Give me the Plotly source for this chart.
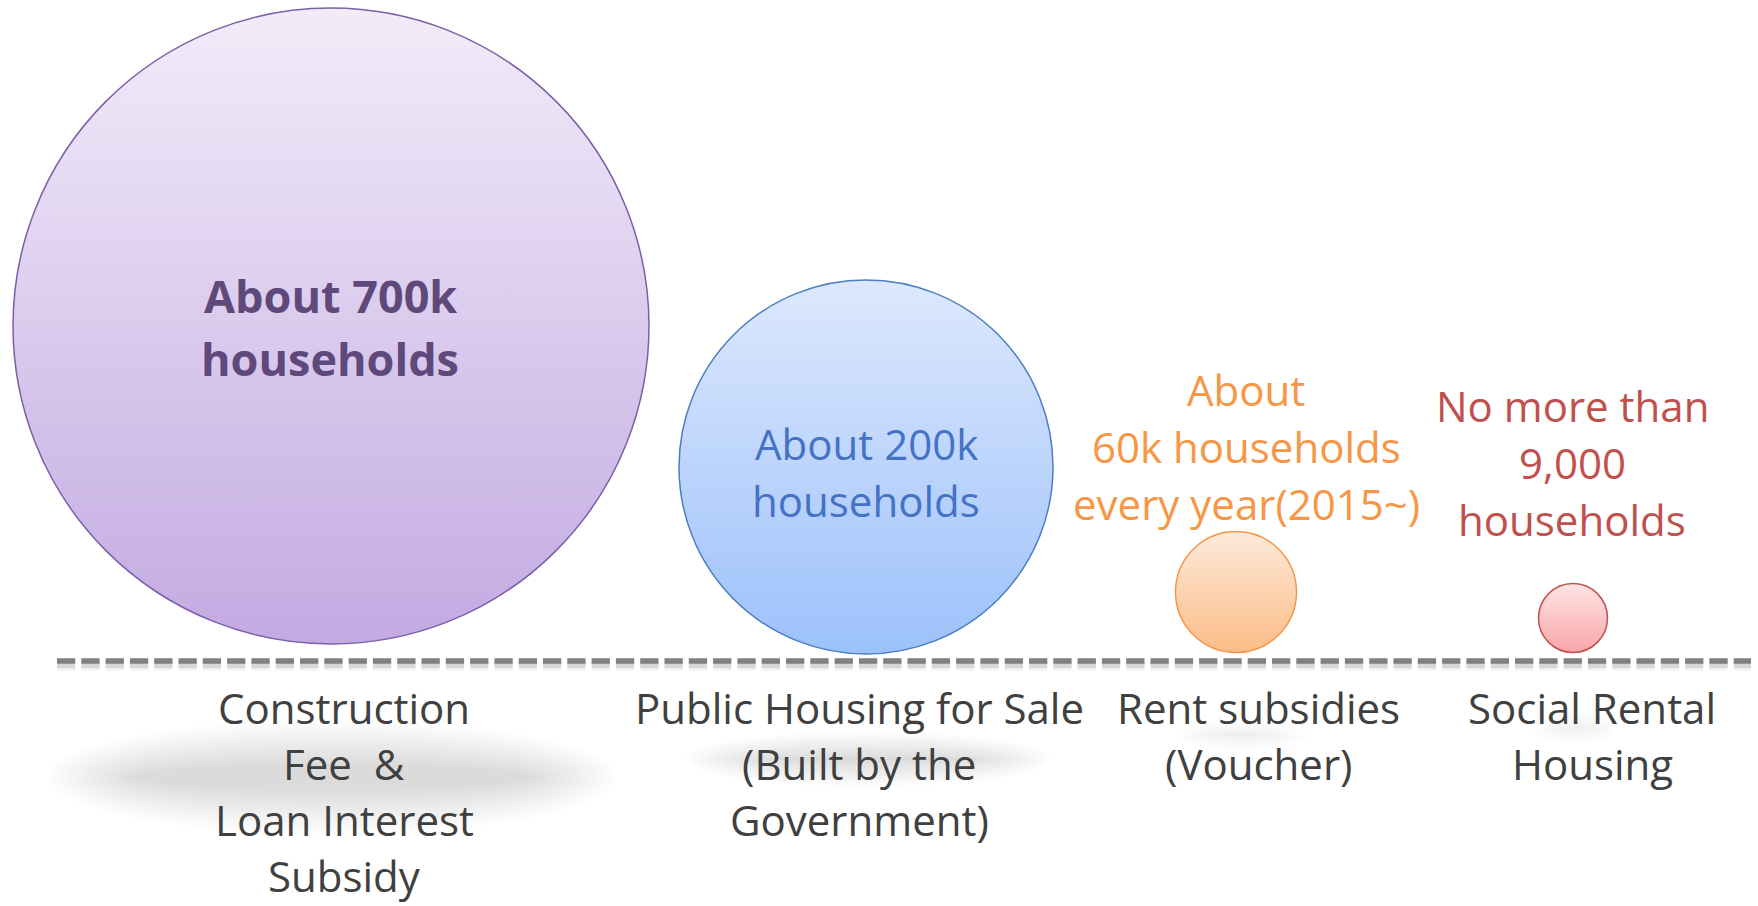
import plotly.graph_objects as go

# ---------------- data ----------------
programs = [
    ["Construction", "Fee\u00a0 &", "Loan Interest", "Subsidy"],
    ["Public Housing for Sale", "(Built by the", "Government)"],
    ["Rent subsidies", "(Voucher)"],
    ["Social Rental", "Housing"],
]
households = [700000, 200000, 60000, 9000]
household_labels = [
    ["About 700k", "households"],
    ["About 200k", "households"],
    ["About", "60k households", "every year(2015~)"],
    ["No more than", "9,000", "households"],
]

# ---------------- layout / style (pixel coordinates) ----------------
W, H = 1758, 906
bubble_x = [331, 866, 1236, 1573]
bubble_y = [326, 467, 592, 618]
bubble_d = [636, 374, 121, 69]

value_text_x = [330, 866, 1246, 1572]
value_text_y0 = [296, 444, 390, 406]     # first line (cap middle)
value_line_gap = [63, 57, 57, 57]
value_font_size = [45, 42, 42, 42]

category_x = [344, 859, 1258, 1592]
category_y0 = 708
category_line_gap = 56
baseline_y = 661

top_colors = ["#f2ecf9", "#dde8fd", "#fdeadb", "#fde4e4"]
bottom_colors = ["#c3aae2", "#9cc1fb", "#fbbd87", "#f9a6a9"]
edge_colors = ["#7b5fa9", "#4a7ec0", "#f79646", "#c0504d"]
text_colors = ["#5f497a", "#4472c4", "#f79646", "#c0504d"]
text_bold = [True, False, False, False]
label_color = "#404040"
FONT = "Open Sans"

# blurred shadows under labels: cx, cy, core half-width, core half-height, blur x, blur y, darkness
shadows = [
    (332, 777, 240, 35, 45, 22, 0.27),
    (868, 759, 142, 14, 40, 14, 0.25),
    (1241, 735, 40, 6, 28, 10, 0.16),
    (1575, 728, 22, 6, 22, 10, 0.14),
]

fig = go.Figure()
shapes = []
N_LAYERS = 18
for (cx, cy, chw, chh, bx, by, dark) in shadows:
    alpha = 1 - (1 - dark) ** (1.0 / N_LAYERS)
    for k in range(N_LAYERS):
        t = k / (N_LAYERS - 1)
        hw = chw + bx * (1 - 2 * t)
        hh = max(chh + by * (1 - 2 * t), 1)
        shapes.append(dict(
            type="circle", xref="x", yref="y", layer="below",
            x0=cx - hw, x1=cx + hw, y0=cy - hh, y1=cy + hh,
            fillcolor="rgba(100,100,100,%.4f)" % alpha,
            line=dict(width=0),
        ))

# dashed baseline with its soft shadow
for off, col, wd in [(5, "rgba(0,0,0,0.06)", 9), (4, "rgba(0,0,0,0.10)", 6)]:
    shapes.append(dict(type="line", xref="x", yref="y", layer="below",
                       x0=57, x1=1751, y0=baseline_y + off, y1=baseline_y + off,
                       line=dict(color=col, width=wd, dash="18.3px,6px")))
shapes.append(dict(type="line", xref="x", yref="y", layer="below",
                   x0=57, x1=1751, y0=baseline_y, y1=baseline_y,
                   line=dict(color="#808080", width=5.5, dash="18.3px,6px")))

# bubbles
for i in range(4):
    fig.add_trace(go.Scatter(
        x=[bubble_x[i]], y=[bubble_y[i]], mode="markers",
        marker=dict(size=bubble_d[i], color=top_colors[i],
                    gradient=dict(type="vertical", color=bottom_colors[i]),
                    line=dict(color=edge_colors[i], width=1.5)),
        customdata=[households[i]],
        hovertemplate="%{customdata:,} households<extra></extra>",
        showlegend=False,
    ))

annotations = []
for i in range(4):
    for j, line in enumerate(household_labels[i]):
        annotations.append(dict(
            x=value_text_x[i], y=value_text_y0[i] + j * value_line_gap[i] - 1,
            xref="x", yref="y", text=line, showarrow=False,
            xanchor="center", yanchor="middle",
            font=dict(family=FONT, size=value_font_size[i], color=text_colors[i],
                      weight="bold" if text_bold[i] else "normal"),
        ))
    for j, line in enumerate(programs[i]):
        annotations.append(dict(
            x=category_x[i], y=category_y0 + j * category_line_gap - 1,
            xref="x", yref="y", text=line, showarrow=False,
            xanchor="center", yanchor="middle", borderpad=0,
            font=dict(family=FONT, size=42, color=label_color),
        ))

fig.update_layout(
    width=W, height=H,
    margin=dict(l=0, r=0, t=0, b=0),
    paper_bgcolor="white", plot_bgcolor="white",
    xaxis=dict(range=[0, W], visible=False, fixedrange=True),
    yaxis=dict(range=[H, 0], visible=False, fixedrange=True),
    shapes=shapes, annotations=annotations,
    showlegend=False,
)

fig.write_html(
    "out.html",
    config={"displayModeBar": False},
    post_script="document.body.style.margin='0';document.body.style.padding='0';"
                "document.body.style.overflow='hidden';",
)
